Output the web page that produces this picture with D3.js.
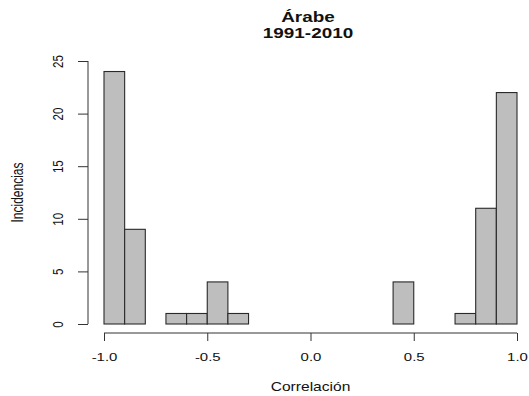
<!DOCTYPE html>
<html>
<head>
<meta charset="utf-8">
<script src="https://cdn.jsdelivr.net/npm/d3@7"></script>
<style>
  html, body { margin: 0; padding: 0; background: #fff; }
  svg { display: block; }
  text { font-family: "Liberation Sans", Arial, sans-serif; fill: #111; }
</style>
</head>
<body>
<svg id="chart" width="529" height="396"></svg>
<script>
const titleLines = ["Árabe", "1991-2010"];
const xLabel = "Correlación";
const yLabel = "Incidencias";
const binEdges = [-1.0, -0.9, -0.8, -0.7, -0.6, -0.5, -0.4, -0.3, -0.2, -0.1, 0.0, 0.1, 0.2, 0.3, 0.4, 0.5, 0.6, 0.7, 0.8, 0.9, 1.0];
const counts = [24, 9, 0, 1, 1, 4, 1, 0, 0, 0, 0, 0, 0, 0, 4, 0, 0, 1, 11, 22];
const xTicks = [-1.0, -0.5, 0.0, 0.5, 1.0];
const yTicks = [0, 5, 10, 15, 20, 25];

const bins = counts.map((c, i) => ({ x0: binEdges[i], x1: binEdges[i + 1], n: c }));

const svg = d3.select("#chart");
const x = d3.scaleLinear().domain([-1, 1]).range([104, 517]);
const y = d3.scaleLinear().domain([0, 25]).range([324, 61]);
const sx = 1.3;

// bars
svg.append("g").selectAll("rect").data(bins).join("rect")
  .attr("x", d => x(d.x0))
  .attr("y", d => y(d.n))
  .attr("width", d => x(d.x1) - x(d.x0))
  .attr("height", d => y(0) - y(d.n))
  .attr("fill", "#bebebe")
  .attr("stroke", "#2a2a2a")
  .attr("stroke-width", 1.1);

// x axis
const xAxisY = 333;
const gx = svg.append("g").attr("transform", `translate(0,${xAxisY})`)
  .call(d3.axisBottom(x).tickValues(xTicks).tickSize(8).tickSizeOuter(0).tickFormat(d3.format(".1f")));
gx.select(".domain").attr("stroke", "#333").attr("d", `M${x(-1)},0H${x(1)}`);
gx.selectAll(".tick line").attr("stroke", "#333");
gx.selectAll(".tick text")
  .attr("y", 0).attr("dy", null)
  .attr("transform", `translate(0,28) scale(${sx},1)`)
  .style("font-size", "11.5px")
  .style("font-family", "'Liberation Sans', Arial, sans-serif")
  .attr("fill", "#111")
  .text(d => d3.format(".1f")(d).replace("−", "-"));

// y axis
const yAxisX = 88;
const gy = svg.append("g").attr("transform", `translate(${yAxisX},0)`)
  .call(d3.axisLeft(y).tickValues(yTicks).tickSize(10).tickSizeOuter(0));
gy.select(".domain").attr("stroke", "#333").attr("d", `M0,${y(0)}V${y(25)}`);
gy.selectAll(".tick line").attr("stroke", "#333");
gy.selectAll(".tick text")
  .attr("x", 0).attr("dy", null)
  .attr("text-anchor", "middle")
  .attr("transform", `translate(-25,0) rotate(-90) scale(1,${sx})`)
  .style("font-size", "11.5px")
  .style("font-family", "'Liberation Sans', Arial, sans-serif")
  .attr("fill", "#111");

// x label
svg.append("text")
  .attr("transform", `translate(${x(0)},391) scale(${sx},1)`)
  .attr("text-anchor", "middle")
  .style("font-size", "12px")
  .text(xLabel);

// y label
svg.append("text")
  .attr("transform", `translate(23,${y(12.5)}) rotate(-90) scale(1,${sx})`)
  .attr("text-anchor", "middle")
  .style("font-size", "12px")
  .text(yLabel);

// title
titleLines.forEach((t, i) => {
  svg.append("text")
    .attr("transform", `translate(308,${22 + i * 16}) scale(1.35,1)`)
    .attr("text-anchor", "middle")
    .style("font-size", "14px")
    .style("font-weight", "bold")
    .text(t);
});
</script>
</body>
</html>
